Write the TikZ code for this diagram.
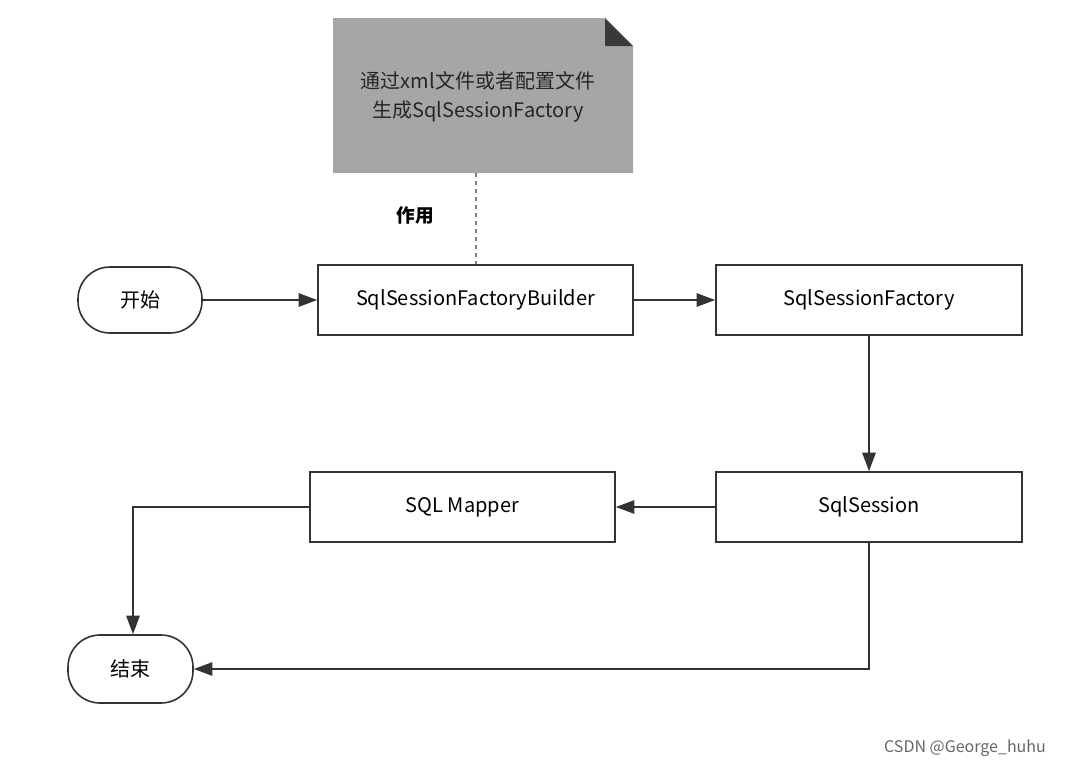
\documentclass[tikz,border=0pt]{standalone}
\usepackage{fontspec}
\setmainfont{Noto Sans CJK SC}
\usetikzlibrary{arrows.meta}
\begin{document}
\begin{tikzpicture}[x=0.75pt,y=-0.75pt,
  box/.style={draw=black!80,line width=1.2pt,fill=white,minimum width=303*0.75pt,minimum height=70*0.75pt,font=\fontsize{15}{18}\selectfont},
  pill/.style={draw=black!80,line width=1.2pt,rounded corners=32*0.75pt,minimum width=124*0.75pt,minimum height=66*0.75pt,font=\fontsize{15}{18}\selectfont},
  con/.style={draw=black!80,line width=1.6pt,-{Triangle[length=14pt,width=10pt]}}]
\useasboundingbox (0,0) rectangle (1083,769);
% note
\fill[gray!70] (333,18) -- (605,18) -- (633,46) -- (633,173) -- (333,173) -- cycle;
\fill[gray!45!black] (605,18) -- (633,46) -- (605,46) -- cycle;
\node[font=\fontsize{15}{22}\selectfont,align=center,text=black!85] (note) at (478,97) {通过xml文件或者配置文件\\生成SqlSessionFactory};
\coordinate (nb) at (476,173);
\node[font=\bfseries\fontsize{14}{17}\selectfont] (zy) at (415,215) {作用};
\node[pill] (start) at (140,300) {开始};
\node[box,minimum width=315*0.75pt] (b) at (475.5,300) {SqlSessionFactoryBuilder};
\node[box,minimum width=306*0.75pt] (f) at (869,300) {SqlSessionFactory};
\node[box,minimum width=306*0.75pt] (s) at (869,507) {SqlSession};
\node[box,minimum width=305*0.75pt] (m) at (462.5,507) {SQL Mapper};
\node[pill,minimum width=125*0.75pt,minimum height=68*0.75pt] (end) at (130.5,669) {结束};
\draw[gray,dashed,line width=1pt] (nb) -- (b.north -| nb);
\draw[con] (start) -- (b);
\draw[con] (b) -- (f);
\draw[con] (f) -- (s);
\draw[con] (s) -- (m);
\draw[con] (m.west) -- (133,507) -- (end.north -| 133,0);
\draw[con] (s.south) |- (end.east);
\node[text=gray!80!black,font=\fontsize{12}{14}\selectfont] (wm) at (965,748) {CSDN @George\_huhu};
\end{tikzpicture}
\end{document}
